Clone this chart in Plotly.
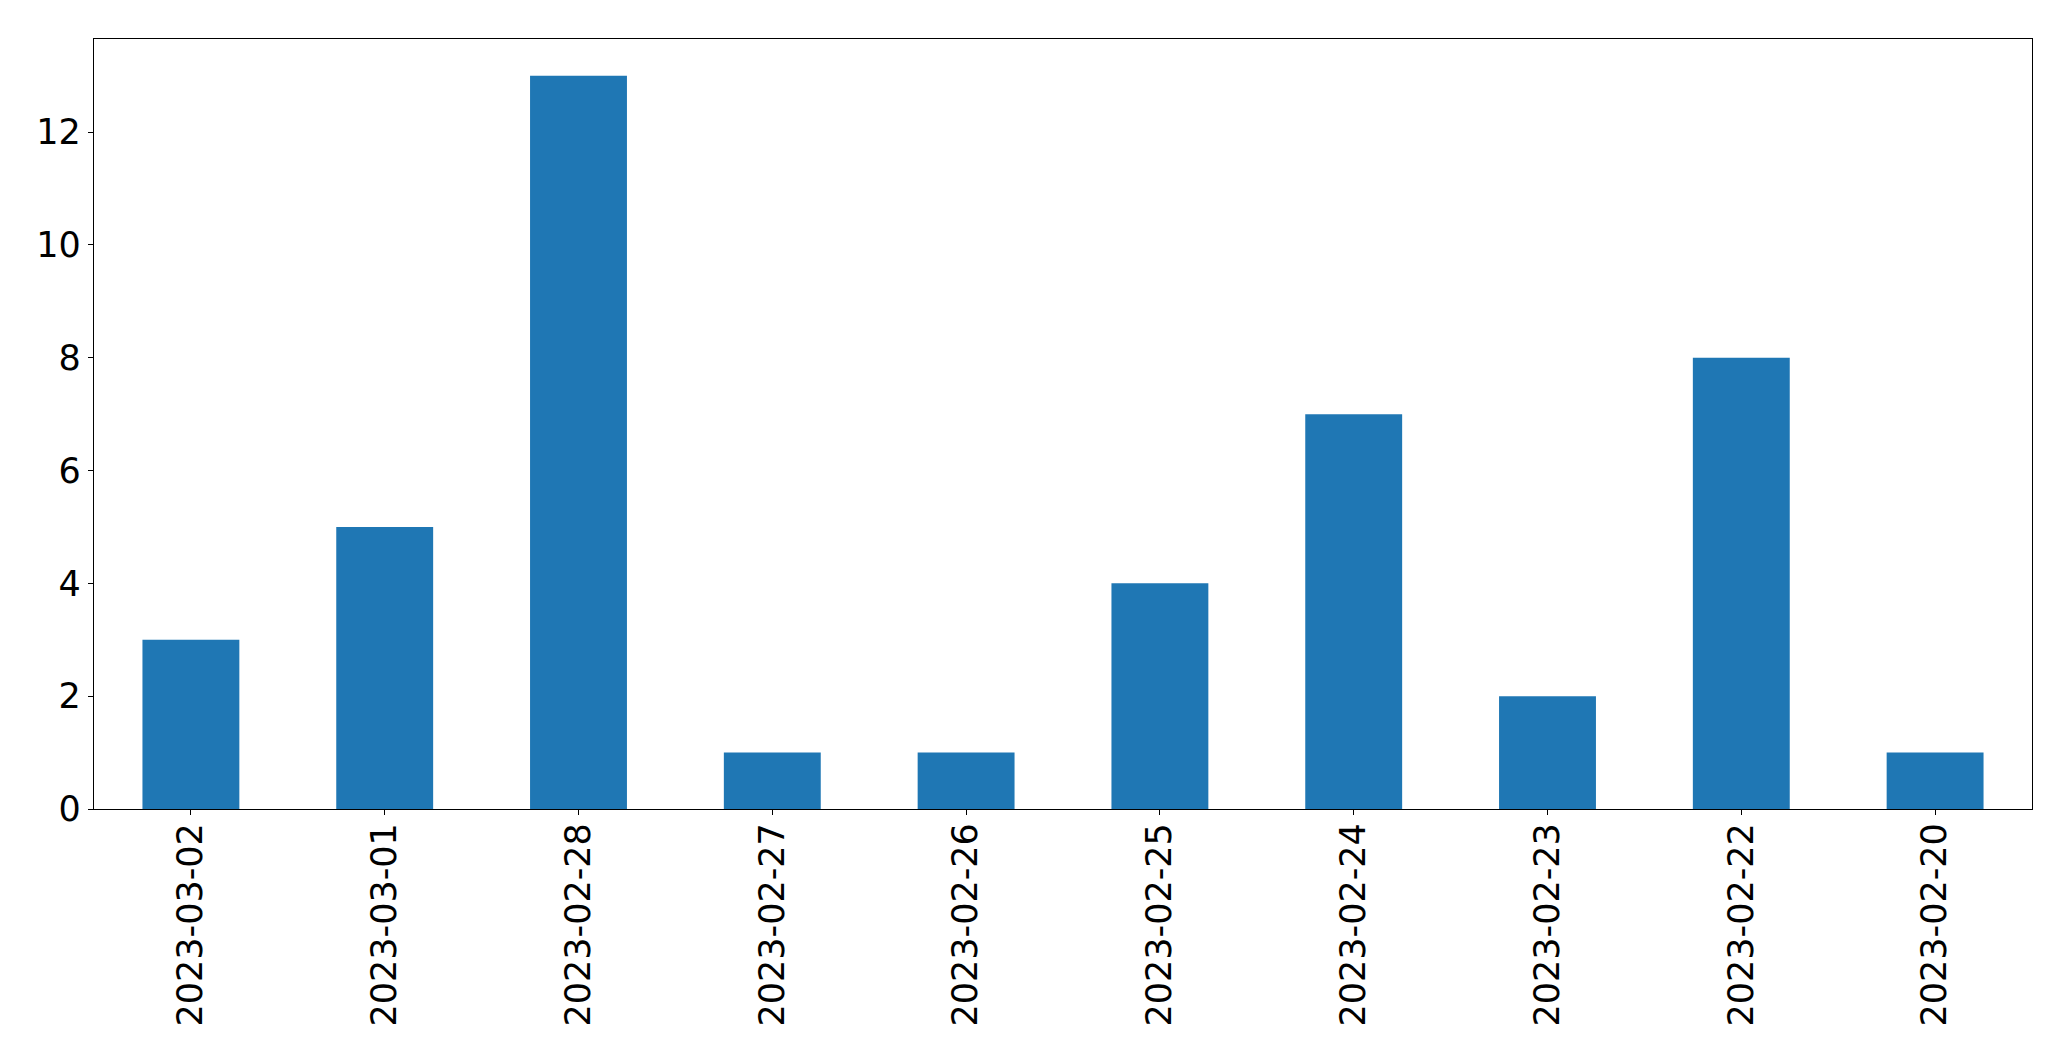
import plotly.graph_objects as go

dates = ["2023-03-02", "2023-03-01", "2023-02-28", "2023-02-27", "2023-02-26",
         "2023-02-25", "2023-02-24", "2023-02-23", "2023-02-22", "2023-02-20"]
counts = [3, 5, 13, 1, 1, 4, 7, 2, 8, 1]
y_ticks = [0, 2, 4, 6, 8, 10, 12]

fig = go.Figure(go.Bar(x=dates, y=counts, marker_color="#1f77b4",
                       marker_line_width=0, width=0.5))

axis_common = dict(showline=True, mirror=True, linecolor="black", linewidth=1.3,
                   ticks="outside", ticklen=5, tickcolor="black", tickwidth=1.3,
                   showgrid=False, zeroline=False,
                   tickfont=dict(family="DejaVu Sans", size=35, color="black"))

fig.update_layout(
    width=2063, height=1053,
    margin=dict(l=86, r=39, t=31, b=252),
    paper_bgcolor="white", plot_bgcolor="white",
    showlegend=False,
)
fig.update_xaxes(type="category", range=[-0.5, len(dates) - 0.5], tickangle=-90,
                 ticklabelstandoff=-6, **axis_common)
fig.update_yaxes(range=[0, max(counts) * 1.05], tickvals=y_ticks, **axis_common)

fig.write_html("out.html")
